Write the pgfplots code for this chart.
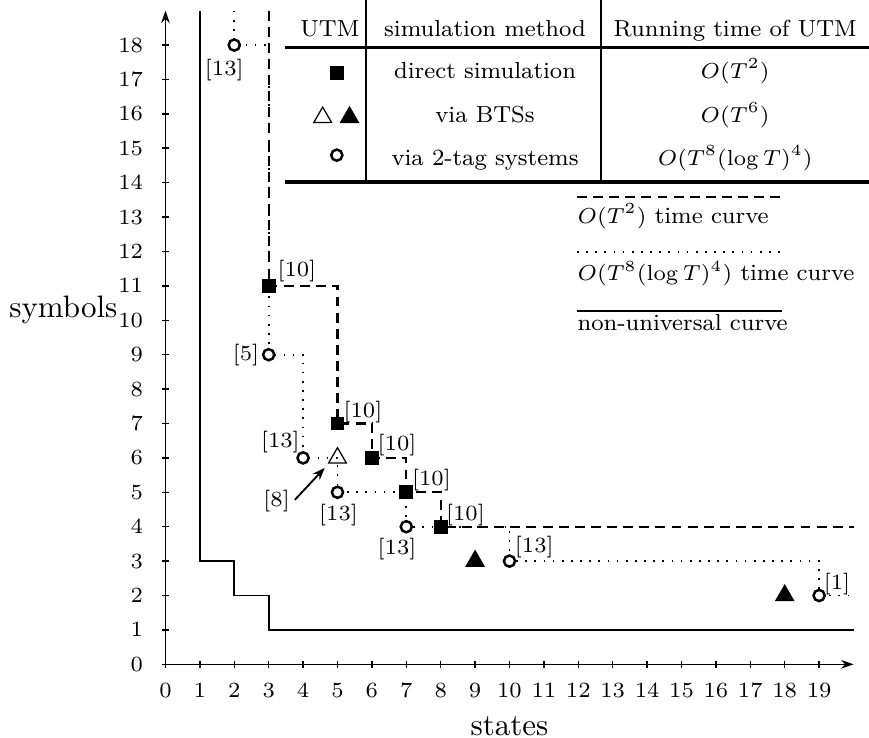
\documentclass[border=0pt]{standalone}
\usepackage{pgfplots}
\pgfplotsset{compat=1.18}
\usetikzlibrary{arrows.meta}
\newcommand{\tabfont}{\fontsize{7.5}{9}\selectfont}

\begin{document}
\begin{tikzpicture}
\begin{axis}[
    x=0.39cm, y=0.39cm,
    xmin=0, xmax=20, ymin=0, ymax=19,
    axis lines=left,
    axis line style={line width=0.5pt, -{Stealth[length=4pt,width=2.8pt]}},
    xtick={0,...,19}, ytick={0,...,18},
    tick align=center, major tick length=2.4pt,
    tick style={black, line width=0.5pt},
    ticklabel style={font=\scriptsize},
    xticklabel style={yshift=-1.5pt},
    yticklabel style={xshift=-2.5pt},
    clip=false,
]
% non-universal curve
\addplot[line width=0.6pt] coordinates {(1,19) (1,3) (2,3) (2,2) (3,2) (3,1) (20,1)};
% O(T^2) time curve
\addplot[line width=0.7pt, dash pattern=on 3.2pt off 2pt] coordinates {
    (3,19) (3,11) (5,11) (5,7) (6,7) (6,6) (7,6) (7,5) (8,5) (8,4) (20,4)};
% O(T^8 (log T)^4) time curve
\addplot[line width=0.55pt, dash pattern=on 0.55pt off 2.4pt] coordinates {
    (2,19) (2,18) (3,18) (3,9) (4,9) (4,6) (5,6) (5,5) (7,5) (7,4)
    (10,4) (10,3) (19,3) (19,2) (20,2)};

% UTMs
\addplot[only marks, mark=square*, mark size=2pt] coordinates {
    (3,11) (5,7) (6,6) (7,5) (8,4)};
\addplot[only marks, mark=*, mark size=1.8pt, mark options={fill=white, line width=0.8pt}] coordinates {
    (2,18) (3,9) (4,6) (5,5) (7,4) (10,3) (19,2)};
\addplot[only marks, mark=triangle, mark size=3.3pt, mark options={line width=0.4pt}] coordinates {(5,6)};
\addplot[only marks, mark=triangle*, mark size=3.3pt] coordinates {(9,3) (18,2)};

% references
\begin{scope}[every node/.style={font=\scriptsize, inner sep=0pt}]
\node at (axis cs:1.71,17.27) {[13]};
\node at (axis cs:3.82,11.42) {[10]};
\node at (axis cs:2.34,9.0) {[5]};
\node at (axis cs:3.34,6.47) {[13]};
\node at (axis cs:5.74,7.34) {[10]};
\node at (axis cs:6.73,6.36) {[10]};
\node at (axis cs:7.73,5.35) {[10]};
\node at (axis cs:8.72,4.34) {[10]};
\node at (axis cs:3.23,4.75) {[8]};
\node at (axis cs:5.03,4.35) {[13]};
\node at (axis cs:6.73,3.36) {[13]};
\node at (axis cs:10.72,3.41) {[13]};
\node at (axis cs:19.52,2.33) {[1]};
\end{scope}
\draw[line width=0.6pt, -{Stealth[length=4pt,width=3pt]}] (axis cs:3.76,4.78) -- (axis cs:4.63,5.71);

% table
\draw[line width=0.6pt] (axis cs:5.83,19.31) -- (axis cs:5.83,14.01);
\draw[line width=0.6pt] (axis cs:12.66,19.31) -- (axis cs:12.66,14.01);
\draw[line width=0.9pt] (axis cs:3.47,17.94) -- (axis cs:20.45,17.94);
\draw[line width=1.2pt] (axis cs:3.47,14.01) -- (axis cs:20.45,14.01);
\begin{scope}[every node/.style={font=\tabfont, anchor=base}]
\node at (axis cs:4.78,18.26) {UTM};
\node at (axis cs:9.29,18.26) {simulation method};
\node at (axis cs:16.56,18.26) {Running time of UTM};
\node at (axis cs:9.29,17.04) {direct simulation};
\node at (axis cs:16.56,17.04) {$O(T^2)$};
\node at (axis cs:9.29,15.76) {via BTSs};
\node at (axis cs:16.56,15.76) {$O(T^6)$};
\node at (axis cs:9.29,14.51) {via 2-tag systems};
\node at (axis cs:16.56,14.51) {$O(T^8(\log T)^4)$};
\end{scope}
\addplot[only marks, mark=square*, mark size=2pt] coordinates {(4.98,17.19)};
\addplot[only marks, mark=triangle, mark size=3.3pt, mark options={line width=0.4pt}] coordinates {(4.57,15.9)};
\addplot[only marks, mark=triangle*, mark size=3.3pt] coordinates {(5.35,15.9)};
\addplot[only marks, mark=*, mark size=1.8pt, mark options={fill=white, line width=0.8pt}] coordinates {(4.98,14.8)};

% curve key
\draw[line width=0.7pt, dash pattern=on 3.2pt off 2pt] (axis cs:11.96,13.58) -- (axis cs:17.92,13.58);
\node[font=\tabfont, anchor=base west, inner sep=0pt] at (axis cs:11.96,12.82) {$O(T^2)$ time curve};
\draw[line width=0.55pt, dash pattern=on 0.55pt off 2.4pt] (axis cs:11.96,11.98) -- (axis cs:17.92,11.98);
\node[font=\tabfont, anchor=base west, inner sep=0pt] at (axis cs:11.96,11.16) {$O(T^8(\log T)^4)$ time curve};
\draw[line width=0.6pt] (axis cs:11.96,10.28) -- (axis cs:17.92,10.28);
\node[font=\tabfont, anchor=base west, inner sep=0pt] at (axis cs:11.96,9.70) {non-universal curve};

% axis titles
\node[anchor=base east, inner sep=0pt] at (axis cs:-1.38,10.09) {symbols};
\node[anchor=base, inner sep=0pt] at (axis cs:10,-2.07) {states};

\coordinate (bbsw) at (axis cs:-4.81,-2.13);
\coordinate (bbne) at (axis cs:20.45,19.31);
\end{axis}
\pgfresetboundingbox
\useasboundingbox (bbsw) rectangle (bbne);
\end{tikzpicture}
\end{document}
